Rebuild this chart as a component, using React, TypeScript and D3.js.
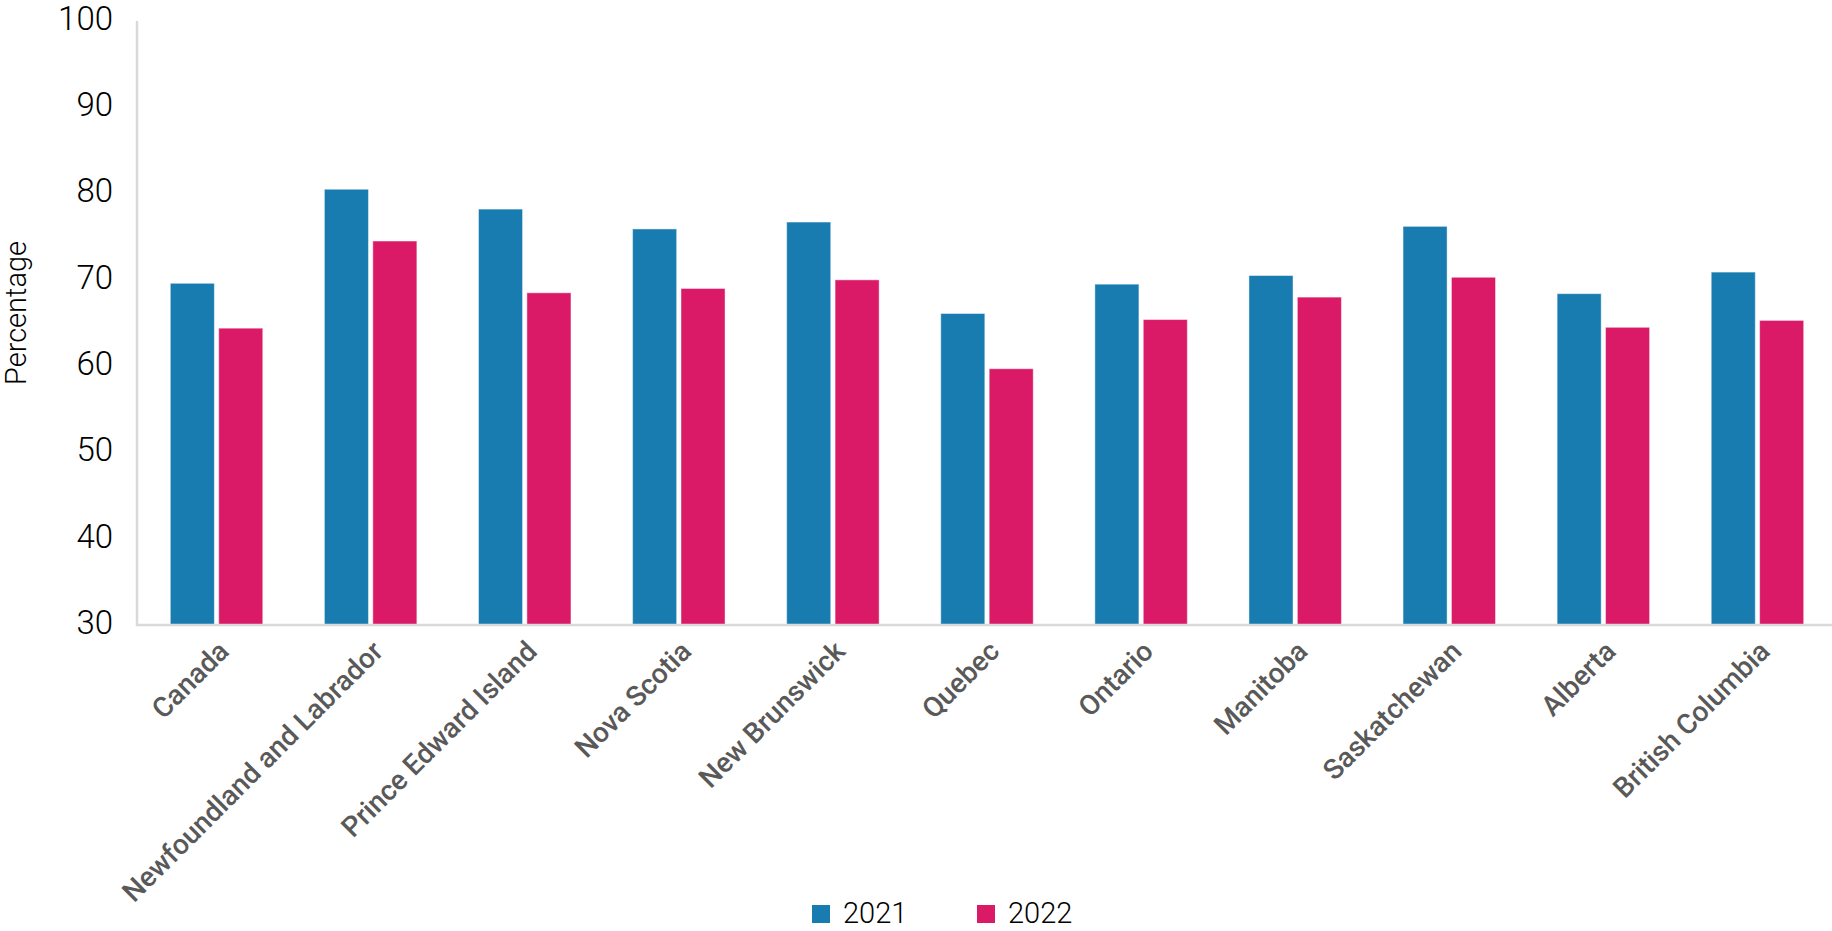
import React from "react";
import * as d3 from "d3";

const categories = [
  "Canada",
  "Newfoundland and Labrador",
  "Prince Edward Island",
  "Nova Scotia",
  "New Brunswick",
  "Quebec",
  "Ontario",
  "Manitoba",
  "Saskatchewan",
  "Alberta",
  "British Columbia",
];
const seriesNames = ["2021", "2022"];
const values2021 = [69.6, 80.5, 78.2, 75.9, 76.7, 66.1, 69.5, 70.5, 76.2, 68.4, 70.9];
const values2022 = [64.4, 74.5, 68.5, 69.0, 70.0, 59.7, 65.4, 68.0, 70.3, 64.5, 65.3];
const yTicks = [30, 40, 50, 60, 70, 80, 90, 100];
const colors = ["#187cb0", "#da1a67"];

const W = 1832;
const H = 931;

export default function App() {
  const series = [values2021, values2022];
  const x = d3.scaleBand<string>().domain(categories).range([139.5, 1834.5]).paddingInner(0.4).paddingOuter(0.2);
  const xs = d3.scaleBand<string>().domain(seriesNames).range([0, x.bandwidth()]).paddingInner(0.09);
  const y = d3.scaleLinear().domain([30, 100]).range([625, 21]);

  const font = "Roboto, 'Noto Sans', sans-serif";

  return (
    <svg width={W} height={H} style={{ position: "absolute", left: 0, top: 0, background: "#fff" }}>
      {/* bars */}
      {categories.map((c, i) => (
        <g key={c} transform={`translate(${x(c)},0)`}>
          {seriesNames.map((s, j) => (
            <rect
              key={s}
              x={xs(s)}
              y={y(series[j][i])}
              width={xs.bandwidth()}
              height={y(30) - y(series[j][i])}
              fill={colors[j]}
              stroke="rgba(255,255,255,0.45)"
              strokeWidth={1}
            />
          ))}
        </g>
      ))}
      {/* axes lines */}
      <line x1={137} x2={137} y1={y(100)} y2={y(30) + 1} stroke="#d9d9d9" strokeWidth={2.5} />
      <line x1={136} x2={W} y1={y(30)} y2={y(30)} stroke="#d9d9d9" strokeWidth={2.5} />
      {/* y ticks */}
      {yTicks.map((t) => (
        <text
          key={t}
          x={113}
          y={y(t) - 3}
          dy="0.36em"
          textAnchor="end"
          fontFamily={font}
          fontWeight={300}
          fontSize={33}
          fill="#000"
        >
          {t}
        </text>
      ))}
      {/* y title */}
      <text
        transform={`translate(26,313) rotate(-90)`}
        textAnchor="middle"
        fontFamily={font}
        fontWeight={300}
        fontSize={29}
        fill="#000"
      >
        Percentage
      </text>
      {/* x labels */}
      {categories.map((c) => {
        const cx = (x(c) as number) + x.bandwidth() / 2;
        return (
          <text
            key={c}
            transform={`translate(${cx + 14},653) rotate(-45)`}
            textAnchor="end"
            fontFamily={font}
            fontWeight={500}
            fontSize={28}
            fill="#595959"
          >
            {c}
          </text>
        );
      })}
      {/* legend */}
      {seriesNames.map((s, j) => {
        const lx = j === 0 ? 812 : 977;
        return (
          <g key={s}>
            <rect x={lx} y={905} width={18} height={18} fill={colors[j]} />
            <text x={lx + 31} y={923} fontFamily={font} fontWeight={300} fontSize={29} fill="#000">
              {s}
            </text>
          </g>
        );
      })}
    </svg>
  );
}
